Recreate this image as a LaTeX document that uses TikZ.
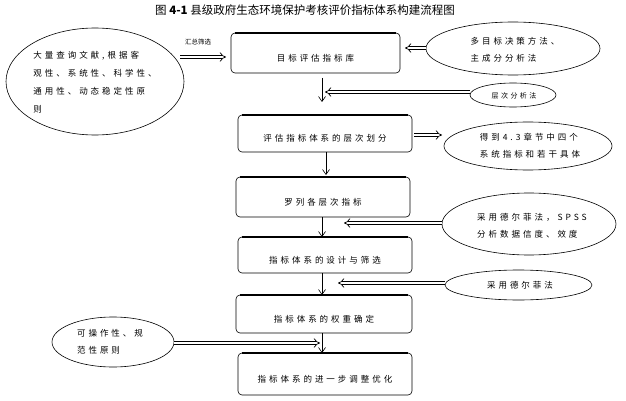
\documentclass[tikz,border=0pt]{standalone}
\usepackage{fontspec}
\setmainfont{Liberation Serif}
\newfontfamily\cjk[LetterSpace=35]{Noto Sans CJK SC}
\newfontfamily\cjktitle{Noto Sans CJK SC}
\usetikzlibrary{arrows.meta}
\begin{document}
\begin{tikzpicture}[x=1pt,y=-1pt,
  stepbox/.style={draw,rounded corners=4pt,line width=0.6pt},
  oval/.style={draw,line width=0.6pt},
  txt/.style={font=\cjk\fontsize{8.5}{17}\selectfont,align=left},
  thin/.style={-{Straight Barb[length=5pt,width=7pt]},line width=0.6pt},
  hollow/.style={double,double distance=2.5pt,line width=0.7pt,-{Implies[]}}]
\useasboundingbox (0,0) rectangle (626,401);
\node[font=\cjktitle\fontsize{11.5}{13}\selectfont] (title) at (305,10) {图 \textbf{4-1} 县级政府生态环境保护考核评价指标体系构建流程图};
% boxes
\foreach \n/\xa/\ya/\xb/\yb/\t in {b1/231/33/400/73/目标评估指标库, b2/238/115/412/152/评估指标体系的层次划分, b3/236/177/410/217/罗列各层次指标, b4/238/237/412/273/指标体系的设计与筛选, b5/236/295/412/333/指标体系的权重确定, b6/238/353/412/395/指标体系的进一步调整优化}{
  \draw[stepbox] (\xa,\ya) rectangle (\xb,\yb);
  \draw[line width=2pt] (\xa+4,\ya) -- (\xb-4,\ya);
  \node[txt,inner sep=0] (\n) at ({(\xa+\xb)/2},{(\ya+\yb)/2+5}) {\t};
  \coordinate (\n t) at ({(\xa+\xb)/2},\ya);
}
% ellipses
\draw[oval] (95,81.5) ellipse (89 and 53.5);
\node[txt,font=\cjk\fontsize{8.5}{18}\selectfont] (e1) at (95,82) {大量查询文献,根据客\\观性、系统性、科学性、\\通用性、动态稳定性原\\则};
\draw[oval] (513,48.5) ellipse (87 and 26.5);
\node[txt] (e2) at (515,50) {多目标决策方法、\\主成分分析法};
\draw[oval] (513,95) ellipse (43 and 12);
\node[txt,font=\cjk\fontsize{7}{9}\selectfont] (e3) at (514,96) {层次分析法};
\draw[oval] (528,146) ellipse (84 and 24);
\node[txt] (e4) at (530,146) {得到4.3章节中四个\\系统指标和若干具体};
\draw[oval] (529,224) ellipse (87 and 31);
\node[txt] (e5) at (532,226) {采用德尔菲法，SPSS\\分析数据信度、效度};
\draw[oval] (518.5,285) ellipse (73.5 and 15);
\node[txt] (e6) at (520,285) {采用德尔菲法};
\draw[oval] (113,342) ellipse (61 and 25);
\node[txt] (e7) at (110,342) {可操作性、规\\范性原则};
% thin arrows
\draw[thin] (322,78) -- (322,102);
\draw[thin] (326,152) -- (326,175);
\draw[thin] (322,217) -- (322,237);
\draw[thin] (322,273) -- (322,295);
\draw[thin] (322,333) -- (322,353);
% hollow arrows
\draw[hollow] (180,57) -- (226,57);
\node[font=\cjktitle\fontsize{6.5}{8}\selectfont] (lab) at (198,42) {汇总筛选};
\draw[hollow] (426,48) -- (405,48);
\draw[hollow] (470,92) -- (325,92);
\draw[hollow] (414,135) -- (442,135);
\draw[hollow] (442,223) -- (344,223);
\draw[hollow] (445,283) -- (338,283);
\draw[hollow] (174,343) -- (320,343);
\end{tikzpicture}
\end{document}
